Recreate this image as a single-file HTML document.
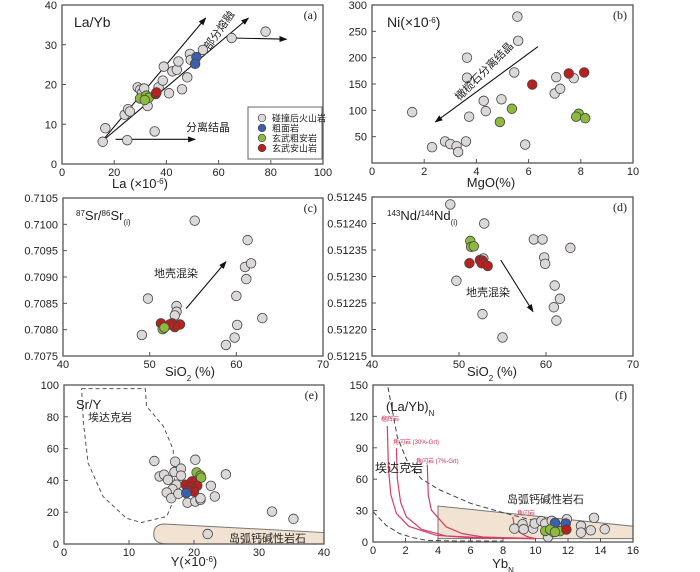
<!DOCTYPE html>
<html><head><meta charset="utf-8">
<style>
body{margin:0;background:#fff;}
svg{display:block;font-family:"Liberation Sans","Noto Sans CJK SC",sans-serif;}
.t{font-size:11px;fill:#222}
</style></head>
<body>
<svg id="fig" width="700" height="572" viewBox="0 0 700 572"></svg>
<script>
// ---------- Panel a ----------
const aGrayX=[15.6,16.6,25,35.5,24,25.3,26,29,30,30.8,31.5,32.8,37,38.6,39,41,42.3,44,44.6,46,48,49,49.3,54,65,78];
const aGrayY=[5.6,9,6,8.2,12.4,13.8,13.2,19.3,18.7,18,19,14.6,19.3,21,24.5,17.8,23.3,23.7,25.8,18.8,21.8,27.7,26.2,28.7,31.7,33.3];
const aBlueX=[51.5,51];const aBlueY=[26.9,25.2];
const aGreenX=[29.9,32.3,33.3,31.7];const aGreenY=[16.5,17.2,16.7,16.1];
const aRedX=[35.9,36.2];const aRedY=[17.6,18];
// ---------- Panel b ----------
const bGrayX=[1.54,2.3,2.8,3.0,3.24,3.3,3.6,3.72,3.64,3.64,4.28,4.36,4.96,5.45,5.57,5.6,5.87,7.0,7.06,7.21,7.73];
const bGrayY=[96.6,30,41,36,32,21,41,88,200,162,118,98.5,121,172,278,232,35,132,163,141,161];
const bRedX=[6.14,7.54,8.13];const bRedY=[149,170,172];
const bGreenX=[4.9,5.36,7.92,7.82,8.17];const bGreenY=[78,103,93.5,88,85];
// ---------- Panel c ----------
const cGrayX=[55.2,61.3,61,61.7,61.15,60,63,60.1,59.8,58.8,49.8,49.1,53.1,53.1,52.9];
const cGrayY=[0.71007,0.7097,0.70919,0.70926,0.70896,0.70864,0.70822,0.70809,0.70785,0.70771,0.70859,0.7079,0.70845,0.70834,0.70827];
const cRedX=[51.3,52.6,53.5,52.9,52.3];const cRedY=[0.70812,0.70812,0.7081,0.70805,0.7081];
const cGreenX=[51.5,51.7];const cGreenY=[0.70801,0.70804];
// ---------- Panel d ----------
const dGrayX=[49.0,52.9,58.6,59.6,62.8,59.8,59.9,52.8,49.7,61.0,61.6,60.9,61.2,52.7,55];
const dGrayY=[0.512436,0.5124,0.51237,0.51237,0.512354,0.512336,0.512324,0.512334,0.512292,0.512283,0.512258,0.512242,0.512217,0.512229,0.512185];
const dGreenX=[51.3,51.4,51.7];const dGreenY=[0.512367,0.512356,0.512357];
const dRedX=[51.2,52.4,52.7,52.6,53.3];const dRedY=[0.512325,0.512331,0.51233,0.512325,0.51232];
// ---------- Panel e ----------
const eGrayX=[13.9,14.7,15.4,16,17.1,17,18,18,17.3,16.7,15.8,16.5,17.6,19,20.2,20.2,21,21,22.6,23.2,24.9,32,35.3,22.1];
const eGrayY=[52.2,42.5,43.6,40.4,51.8,45.3,47.4,43,37.3,34.5,32.4,28.8,31.6,26,53,26.7,27.8,28.8,36.6,29.9,43.8,20.4,15.8,6.3];
const eGreenX=[20.4,21,21.1];const eGreenY=[45,43,41.7];
const eRedX=[18.7,19.7,20.5,19.4,20,19];const eRedY=[37.3,39.4,36.6,35.8,33,33.7];
const eBlueX=[18.8];const eBlueY=[32];
// ---------- Panel f ----------
const fGrayX=[8.7,9.2,9.27,9.85,9.95,10.36,10.6,11,10.77,11.3,11.93,12.8,12.8,13.4,13.6,14.26,11.1];
const fGrayY=[12.8,17,12.2,12.8,17.7,20,17.7,20.2,4.8,15.1,21.8,15.4,9,11.2,23.1,12.2,9.6];
const fBlueX=[11.2,11.86];const fBlueY=[18.3,17.7];
const fGreenX=[10.6,10.9,11.5,11.2];const fGreenY=[10.6,11.9,10.3,9.6];
const fRedX=[11.9];const fRedY=[11.9];

const NS="http://www.w3.org/2000/svg";
const svg=document.getElementById('fig');
const COL={gray:'#dcd8d8',blue:'#3a5fae',green:'#8cba3c',red:'#b8211f'};
function mk(tag,attrs,parent){const e=document.createElementNS(NS,tag);for(const k in attrs)e.setAttribute(k,attrs[k]);(parent||svg).appendChild(e);return e;}
function txt(x,y,s,attrs,parent){const e=mk('text',Object.assign({x:x,y:y},attrs||{}),parent);e.textContent=s;return e;}

function panel(id,L,R,T,B,x0,x1,y0,y1){
  const g=mk('g',{});
  
  
  const sx=v=>L+(v-x0)/(x1-x0)*(R-L);
  const sy=v=>B-(v-y0)/(y1-y0)*(B-T);
  return {g,sx,sy,L,R,T,B};
}
function frame(p){
  const r=mk('rect',{x:p.L,y:p.T,width:p.R-p.L,height:p.B-p.T,fill:'none',stroke:'#555','stroke-width':1.3},p.g);
  
  
}
function xticks(p,vals,fmt,y){
  vals.forEach(v=>{
    mk('line',{x1:p.sx(v),x2:p.sx(v),y1:p.B,y2:p.B-4,stroke:'#555'},p.g);
    const t=txt(p.sx(v),y||p.B+12,fmt(v),{class:'t','text-anchor':'middle'},p.g);
    
    
  });
}
function yticks(p,vals,fmt){
  vals.forEach(v=>{
    mk('line',{x1:p.L,x2:p.L+4,y1:p.sy(v),y2:p.sy(v),stroke:'#555'},p.g);
    const t=txt(p.L-5,p.sy(v)+4,fmt(v),{class:'t','text-anchor':'end'},p.g);
    
    
  });
}
function pts(p,X,Y,col,name){
  X.forEach((x,i)=>{
    const c=mk('circle',{cx:p.sx(x),cy:p.sy(Y[i]),r:4.8,fill:COL[col],stroke:'#444','stroke-width':0.8},p.g);
    
    
  });
}
function arrow(p,xa,ya,xb,yb){
  const l=mk('line',{x1:p.sx(xa),y1:p.sy(ya),x2:p.sx(xb),y2:p.sy(yb),stroke:'#111','stroke-width':1.1,'marker-end':'url(#ah)'},p.g);
  
  
}
const defs=mk('defs',{});
const mkr=mk('marker',{id:'ah',markerWidth:8,markerHeight:8,refX:7,refY:4,orient:'auto',markerUnits:'userSpaceOnUse'},defs);
mk('path',{d:'M0,1 L8,4 L0,7 Z',fill:'#111'},mkr);
function plabel(p,s){const t=txt(p.R-6,p.T+14,s,{'font-family':'Liberation Serif,serif','font-size':12,'text-anchor':'end',fill:'#222'},p.g);
  }
function label(p,x,y,s,size,name,extra){const t=txt(x,y,s,Object.assign({'font-size':size,fill:'#222'},extra||{}),p.g);
  return t;}
// rich label: parts = [[text, mode]] mode: '', 'sup', 'sub'
function rich(p,x,y,parts,size,name,anchor){
  const t=mk('text',{x:x,y:y,'font-size':size,fill:'#222','text-anchor':anchor||'start'},p.g);
  
  parts.forEach(q=>{
    const s=mk('tspan',{},t);
    if(q[1]){s.setAttribute('font-size',Math.round(size*0.6));s.setAttribute('baseline-shift',q[1]=='sup'?'super':'sub');}
    s.textContent=q[0];
  });
  return t;
}

// ===== a =====
let p=panel('a',62,323,5,164,0,100,0,40);
frame(p);
xticks(p,[0,20,40,60,80,100],v=>v);
yticks(p,[0,10,20,30,40],v=>v);
arrow(p,15,5.5,55,36.7);arrow(p,15,5.5,71.4,36.7);arrow(p,65,31.7,86,31.4);arrow(p,20.5,6.2,51,6.2);
pts(p,aGrayX,aGrayY,'gray','point-post-collision');
pts(p,aBlueX,aBlueY,'blue','point-trachyte');
pts(p,aGreenX,aGreenY,'green','point-trachyandesite');
pts(p,aRedX,aRedY,'red','point-basaltic-andesite');
plabel(p,'(a)');
label(p,74,27,'La/Yb',14,'y-axis-title');
label(p,219,34,'部分熔融',11,'annotation-partial-melting',{transform:'rotate(-55 219 30)','text-anchor':'middle'});
label(p,186,131,'分离结晶',11,'annotation-fractional-crystallization');
rich(p,140,188,[['La (×10',''],['-6','sup'],[')','']],13,'x-axis-title','middle');
// legend
const lg=mk('g',{},p.g);
mk('rect',{x:248,y:107,width:74,height:52,fill:'#fff',stroke:'#666'},lg);
[['gray','碰撞后火山岩'],['blue','粗面岩'],['green','玄武粗安岩'],['red','玄武安山岩']].forEach((e,i)=>{
  const y=118+i*10;
  const c=mk('circle',{cx:262,cy:y,r:3.8,fill:COL[e[0]],stroke:'#444','stroke-width':0.7},lg);
  
  const t=txt(272,y+3.5,e[1],{'font-size':9,fill:'#222'},lg);
  
});

// ===== b =====
p=panel('b',372,633,5,163,0,10,0,300);
frame(p);
xticks(p,[0,2,4,6,8,10],v=>v);
yticks(p,[50,100,150,200,250,300],v=>v);
arrow(p,6.36,221,2.43,78);
pts(p,bGrayX,bGrayY,'gray','point-post-collision');
pts(p,bRedX,bRedY,'red','point-basaltic-andesite');
pts(p,bGreenX,bGreenY,'green','point-trachyandesite');
plabel(p,'(b)');
rich(p,387,27,[['Ni(×10',''],['-6','sup'],[')','']],14,'y-axis-title');
label(p,484,75,'橄榄石分离结晶',11,'annotation-olivine',{transform:'rotate(-45 484 71)','text-anchor':'middle'});
rich(p,491,187,[['MgO(%)','']],13,'x-axis-title','middle');

// ===== c =====
p=panel('c',63,323,198,356,40,70,0.7075,0.7105);
frame(p);
xticks(p,[40,50,60,70],v=>v);
yticks(p,[0.7075,0.708,0.7085,0.709,0.7095,0.71,0.7105],v=>v.toFixed(4));
arrow(p,54.2,0.7084,58.8,0.70929);
pts(p,cGrayX,cGrayY,'gray','point-post-collision');
pts(p,cRedX,cRedY,'red','point-basaltic-andesite');
pts(p,cGreenX,cGreenY,'green','point-trachyandesite');
plabel(p,'(c)');
rich(p,76,220,[['87','sup'],['Sr/',''],['86','sup'],['Sr',''],['(i)','sub']],13,'y-axis-title');
label(p,154,277,'地壳混染',11,'annotation-crustal-contamination');
rich(p,190,376,[['SiO',''],['2','sub'],[' (%)','']],13,'x-axis-title','middle');

// ===== d =====
p=panel('d',372,633,197,356,40,70,0.51215,0.51245);
frame(p);
xticks(p,[40,50,60,70],v=>v);
yticks(p,[0.51215,0.5122,0.51225,0.5123,0.51235,0.5124,0.51245],v=>v.toFixed(5));
arrow(p,54.8,0.512331,58.5,0.512234);
pts(p,dGrayX,dGrayY,'gray','point-post-collision');
pts(p,dGreenX,dGreenY,'green','point-trachyandesite');
pts(p,dRedX,dRedY,'red','point-basaltic-andesite');
plabel(p,'(d)');
rich(p,387,220,[['143','sup'],['Nd/',''],['144','sup'],['Nd',''],['(i)','sub']],13,'y-axis-title');
label(p,466,296,'地壳混染',11,'annotation-crustal-contamination');
rich(p,492,376,[['SiO',''],['2','sub'],[' (%)','']],13,'x-axis-title','middle');

// ===== e =====
p=panel('e',64,324,385,544,0,40,0,100);
const eAdakX=[2.7,12.5,12.7,15.3,16.8,17.1,15.8,11.9,9.6,6.0,3.7,3.0,2.7];
const eAdakY=[97.7,97.7,86.7,74,59.4,29.9,17.3,13.5,16.2,29.9,51,76,97.7];
let d='';eAdakX.forEach((x,i)=>{d+=(i?'L':'M')+p.sx(x)+','+p.sy(eAdakY[i]);});
let f=mk('path',{d:d,fill:'none',stroke:'#555','stroke-dasharray':'4,3','stroke-width':1},p.g);

f=mk('path',{d:`M${p.sx(15.5)},${p.sy(12.6)} L${p.sx(40)},${p.sy(7.2)} L${p.sx(40)},${p.sy(0)} L${p.sx(16)},${p.sy(0)} Q${p.sx(13.8)},${p.sy(0)} ${p.sx(13.8)},${p.sy(6)} Q${p.sx(13.8)},${p.sy(12.6)} ${p.sx(15.5)},${p.sy(12.6)} Z`,fill:'#f1e2d2',stroke:'#777'},p.g);

frame(p);
xticks(p,[0,10,20,30,40],v=>v);
yticks(p,[0,20,40,60,80,100],v=>v);
pts(p,eGrayX,eGrayY,'gray','point-post-collision');
pts(p,eGreenX,eGreenY,'green','point-trachyandesite');
pts(p,eRedX,eRedY,'red','point-basaltic-andesite');
pts(p,eBlueX,eBlueY,'blue','point-trachyte');
plabel(p,'(e)');
label(p,76,409,'Sr/Y',13,'y-axis-title');
label(p,88,421,'埃达克岩',11,'label-adakite');
label(p,229,542,'岛弧钙碱性岩石',11,'label-arc-rocks');
rich(p,194,566,[['Y(×10',''],['-6','sup'],[')','']],13,'x-axis-title','middle');

// ===== f =====
p=panel('f',373,633,385,542,0,16,0,150);
f=mk('polygon',{points:[[4,3.2],[4,34.4],[16,15.1],[16,3.2]].map(q=>p.sx(q[0])+','+p.sy(q[1])).join(' '),fill:'#f1e2d2',stroke:'#777'},p.g);

function curve(X,Y,attrs,name){let dd='';X.forEach((x,i)=>{dd+=(i?'L':'M')+p.sx(x)+','+p.sy(Y[i]);});
  const c=mk('path',Object.assign({d:dd,fill:'none'},attrs),p.g);}
const dash={stroke:'#444','stroke-dasharray':'5,3','stroke-width':1};
curve([0.92,1.5,2.15,3,4.1,6,7.8,9.5,10.9],[147.9,100,75.5,60,49.8,37,28.9,22,17.7],dash,'adakite-boundary-upper');
curve([0,0.8,1.64,2.5,3.3,5,8],[29,16,8,4,1.6,1,1],dash,'adakite-boundary-lower');
const pk={stroke:'#d1406a','stroke-width':1.2};
curve([0.88,0.95,1.1,1.44,2.2,3.9,6,10],[110.8,70,45,27.3,15,6.4,4,3.2],pk,'eclogite-melt-curve');
curve([1.44,1.5,1.7,2.05,3,4.5,7,10],[89.6,60,38,24.1,12,5.8,4,3.2],pk,'amphibolite-30-curve');
curve([3.34,3.4,3.59,4.5,5.5,6.77,10],[73.9,45,30.5,14.5,8,4.8,3.2],pk,'amphibolite-7-curve');
curve([8.6,8.7,9.03,9.5,10],[24.1,15,9,5,3.2],pk,'amphibolite-curve');
frame(p);
xticks(p,[0,2,4,6,8,10,12,14,16],v=>v);
yticks(p,[0,30,60,90,120,150],v=>v);
pts(p,fGrayX,fGrayY,'gray','point-post-collision');
pts(p,fBlueX,fBlueY,'blue','point-trachyte');
pts(p,fGreenX,fGreenY,'green','point-trachyandesite');
pts(p,fRedX,fRedY,'red','point-basaltic-andesite');
plabel(p,'(f)');
rich(p,386,411,[['(La/Yb)',''],['N','sub']],13,'y-axis-title');
label(p,375,472,'埃达克岩',12,'label-adakite');
label(p,507,503,'岛弧钙碱性岩石',11,'label-arc-rocks');
label(p,381,421,'榴辉岩',6,'label-eclogite',{fill:'#c8325a'});
label(p,393,444,'角闪岩 (30%-Grt)',6,'label-amphibolite-30',{fill:'#c8325a'});
label(p,416,463,'角闪岩 (7%-Grt)',6,'label-amphibolite-7',{fill:'#c8325a'});
label(p,517,515,'角闪岩',6,'label-amphibolite',{fill:'#c8325a'});
rich(p,503,568,[['Yb',''],['N','sub']],13,'x-axis-title','middle');
</script>
</body></html>
